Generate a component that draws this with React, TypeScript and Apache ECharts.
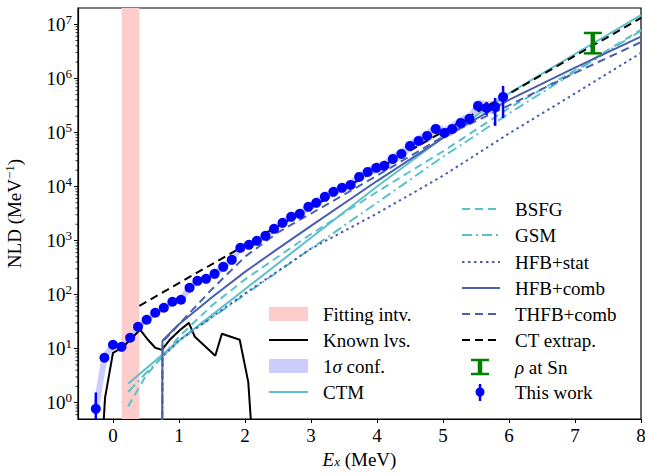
import React, { useEffect, useRef } from 'react';
import * as echarts from 'echarts';

// ---------- data ----------
const dataX = [-0.26, -0.13, 0.0, 0.13, 0.26, 0.38, 0.51, 0.64, 0.77, 0.9, 1.03, 1.16, 1.28, 1.41, 1.54, 1.67, 1.8, 1.93, 2.06, 2.18, 2.31, 2.44, 2.57, 2.7, 2.83, 2.96, 3.08, 3.21, 3.34, 3.47, 3.6, 3.73, 3.86, 3.99, 4.11, 4.24, 4.37, 4.5, 4.63, 4.76, 4.89, 5.02, 5.14, 5.27, 5.4, 5.53, 5.66, 5.79, 5.91];
const dataY = [0.77, 6.8, 11.8, 10.8, 15.9, 25.4, 34.2, 46.1, 57, 73.6, 80.2, 134, 180, 196, 242, 326, 440, 733, 832, 986, 1221, 1645, 2124, 2742, 3117, 4198, 4977, 6427, 7948, 9420, 10700, 15040, 18600, 22080, 24040, 32370, 40070, 56300, 69600, 86100, 116000, 98000, 116000, 150000, 178000, 309000, 284000, 296000, 453000];
// 1 sigma half width (log10 units)
const confErr = [0.04, 0.04, 0.04, 0.04, 0.04, 0.04, 0.04, 0.04, 0.05, 0.05, 0.05, 0.05, 0.05, 0.05, 0.05, 0.06, 0.06, 0.06, 0.06, 0.06, 0.07, 0.07, 0.07, 0.07, 0.07, 0.08, 0.08, 0.08, 0.08, 0.08, 0.09, 0.09, 0.09, 0.09, 0.1, 0.1, 0.1, 0.1, 0.11, 0.11, 0.11, 0.11, 0.12, 0.12, 0.12, 0.12, 0.12, 0.12, 0.12];
const errX = [-0.26, 5.66, 5.79, 5.91];
const errLow = [0.3, 210000, 132000, 185000];
const errHigh = [1.55, 366000, 434000, 724000];

const knownX = [-0.15, -0.12, 0.0, 0.14, 0.26, 0.41, 0.53, 0.64, 0.74, 0.86, 1.02, 1.15, 1.24, 1.55, 1.65, 1.92, 2.05, 2.1];
const knownY = [0.3, 1.24, 8.4, 10.4, 14.6, 22.4, 14.6, 10.4, 9.5, 14.6, 22.4, 30, 16.6, 7.4, 18.9, 14.6, 2.4, 0.3];

const ctX = [0.4, 8];
const ctY = [62, 1.31e7];

const ctmX = [0.23, 1, 2, 3, 4, 5, 6, 7, 8];
const ctmY = [2.24, 14.1, 126, 1122, 10000, 79400, 525000, 2.82e6, 1.48e7];

const bsfgX = [0.23, 0.5, 1, 1.5, 2, 3, 4, 5, 6, 7, 8];
const bsfgY = [0.85, 3.16, 16.6, 63.1, 191, 1318, 7940, 44700, 282000, 1.41e6, 7.94e6];

const gsmX = [0.23, 0.5, 1, 2, 3, 4, 5, 6, 7, 8];
const gsmY = [1.58, 3.55, 14.1, 100, 708, 5010, 35500, 224000, 1.32e6, 7.59e6];

const statX = [0.745, 0.75, 1, 2, 3, 4, 5, 6, 7, 8];
const statY = [0.1, 7.08, 14.1, 105, 708, 3160, 15800, 95500, 525000, 2.95e6];

const combX = [0.745, 0.75, 1, 1.5, 2, 2.5, 3, 4, 5, 6, 7, 8];
const combY = [0.1, 14.1, 28.2, 89.1, 263, 708, 1862, 12600, 79400, 398000, 1.58e6, 5.89e6];

const thfbX = [0.745, 0.75, 1, 1.5, 2, 2.5, 3, 3.5, 4, 5, 6, 7, 8];
const thfbY = [0.1, 13.2, 28.2, 126, 501, 1413, 3160, 7080, 15800, 83200, 316000, 1.26e6, 4.68e6];

const snX = [7.27];
const snY = [4.5e6];
const snLow = [2.9e6];
const snHigh = [6.9e6];

const fitRange = [0.13, 0.4];

const xTicks = [0, 1, 2, 3, 4, 5, 6, 7, 8];
const X_MIN = -0.53;
const X_MAX = 8;
const Y_MIN = 0.5;
const Y_MAX = 2e7;

// ---------- style ----------
const FONT = '"Liberation Serif", "Times New Roman", serif';
const CYAN = '#5bc0cb';
const BLUE = '#4a5fae';
const DOT = '#0000ff';
const PINK = '#ffcccc';
const BAND = '#ccccff';
const GREEN = '#008000';
const FS = 19;
const SFS = 13;
const LFS = 19;

const zip = (xs: number[], ys: number[]) => xs.map((x, i) => [x, ys[i]]);

const minorVals: number[][] = [];
for (let e = -1; e <= 7; e++) {
  for (let k = 2; k <= 9; k++) {
    const v = k * Math.pow(10, e);
    if (v > Y_MIN && v < Y_MAX) minorVals.push([X_MIN, v]);
  }
}

const lineSeries = (name: string, xs: number[], ys: number[], color: string, type: any, z = 4) => ({
  name,
  type: 'line',
  data: zip(xs, ys),
  showSymbol: false,
  symbol: 'none',
  clip: true,
  z,
  lineStyle: { color, width: 2, type },
});

function buildLegend() {
  const els: any[] = [];
  const txt = (x: number, y: number, rich: string) => ({
    type: 'text',
    x,
    y,
    style: {
      text: rich,
      fontFamily: FONT,
      fontSize: LFS,
      fill: '#000',
      verticalAlign: 'middle',
      rich: {
        i: { fontStyle: 'italic', fontFamily: FONT, fontSize: LFS },
      },
    },
    z: 100,
  });
  const seg = (x1: number, x2: number, y: number, color: string, dash?: number[]) => ({
    type: 'line',
    shape: { x1, y1: y, x2, y2: y },
    style: { stroke: color, lineWidth: 2.2, lineDash: dash },
    z: 100,
  });
  // left column
  const L1 = 269, L2 = 308, LT = 323;
  els.push({ type: 'rect', shape: { x: L1, y: 307, width: L2 - L1, height: 14 }, style: { fill: PINK }, z: 100 });
  els.push(txt(LT, 314, 'Fitting intv.'));
  els.push(seg(L1, L2, 340, '#000'));
  els.push(txt(LT, 340, 'Known lvs.'));
  els.push({ type: 'rect', shape: { x: L1, y: 359, width: L2 - L1, height: 14 }, style: { fill: BAND }, z: 100 });
  els.push(txt(LT, 366, '1{i|σ} conf.'));
  els.push(seg(L1, L2, 392, CYAN));
  els.push(txt(LT, 392, 'CTM'));
  // right column
  const R1 = 462, R2 = 500, RT = 515;
  els.push(seg(R1, R2, 209, CYAN, [8, 5]));
  els.push(txt(RT, 209, 'BSFG'));
  els.push(seg(R1, R2, 235, CYAN, [10, 4, 2, 4]));
  els.push(txt(RT, 235, 'GSM'));
  els.push(seg(R1, R2, 262, BLUE, [2.5, 3.5]));
  els.push(txt(RT, 262, 'HFB+stat'));
  els.push(seg(R1, R2, 288, BLUE));
  els.push(txt(RT, 288, 'HFB+comb'));
  els.push(seg(R1, R2, 314, BLUE, [8, 5]));
  els.push(txt(RT, 314, 'THFB+comb'));
  els.push(seg(R1, R2, 340, '#000', [8, 5]));
  els.push(txt(RT, 340, 'CT extrap.'));
  // rho at Sn
  els.push({ type: 'line', shape: { x1: 480, y1: 359, x2: 480, y2: 375 }, style: { stroke: GREEN, lineWidth: 4.5 }, z: 100 });
  els.push({ type: 'line', shape: { x1: 471, y1: 360, x2: 489, y2: 360 }, style: { stroke: GREEN, lineWidth: 2.5 }, z: 100 });
  els.push({ type: 'line', shape: { x1: 471, y1: 374, x2: 489, y2: 374 }, style: { stroke: GREEN, lineWidth: 2.5 }, z: 100 });
  els.push(txt(RT, 367, '{i|ρ} at Sn'));
  // this work
  els.push({ type: 'line', shape: { x1: 480, y1: 384, x2: 480, y2: 401 }, style: { stroke: DOT, lineWidth: 2.5 }, z: 100 });
  els.push({ type: 'circle', shape: { cx: 480, cy: 392, r: 4.5 }, style: { fill: DOT }, z: 100 });
  els.push(txt(RT, 392, 'This work'));
  return els;
}

export default function App() {
  const ref = useRef<HTMLDivElement>(null);
  useEffect(() => {
    document.body.style.margin = '0';
    const chart = echarts.init(ref.current!, null, { renderer: 'svg' });
    const option: any = {
      animation: false,
      backgroundColor: '#fff',
      grid: {
        left: 78, right: 4, top: 8, bottom: 57,
        show: true, borderColor: '#000', borderWidth: 1.2, backgroundColor: 'transparent',
        containLabel: false, outerBoundsMode: 'none',
      },
      xAxis: {
        type: 'value',
        min: X_MIN,
        max: X_MAX,
        axisLine: { onZero: false, lineStyle: { color: '#000', width: 1.2 } },
        axisTick: { customValues: xTicks, length: 4, lineStyle: { color: '#000', width: 1 } },
        axisLabel: { customValues: xTicks, color: '#000', fontFamily: FONT, fontSize: FS, margin: 7 },
        splitLine: { show: false },
        name: '{i|E}{s|x}{n| (MeV)}',
        nameLocation: 'middle',
        nameGap: 29,
        nameTextStyle: {
          color: '#000',
          fontFamily: FONT,
          fontSize: FS,
          rich: {
            i: { fontStyle: 'italic', fontFamily: FONT, fontSize: FS, padding: [0, 0, 4, 0] },
            n: { fontFamily: FONT, fontSize: FS, padding: [0, 0, 4, 0] },
            s: { fontStyle: 'italic', fontFamily: FONT, fontSize: SFS },
          },
        },
      },
      yAxis: {
        type: 'log',
        logBase: 10,
        min: Y_MIN,
        max: Y_MAX,
        axisLine: { onZero: false, lineStyle: { color: '#000', width: 1.2 } },
        axisTick: { length: 4, lineStyle: { color: '#000', width: 1 } },
        axisLabel: {
          color: '#000',
          fontFamily: FONT,
          fontSize: FS,
          margin: 6,
          showMinLabel: false,
          showMaxLabel: false,
          formatter: (v: number) => `{n|10}{s|${Math.round(Math.log10(v))}}`,
          rich: {
            n: { fontFamily: FONT, fontSize: FS },
            s: { fontFamily: FONT, fontSize: SFS, padding: [0, 0, 10, 0] },
          },
        },
        splitLine: { show: false },
        name: '{n|NLD (MeV}{s|−1}{n|)}',
        nameLocation: 'middle',
        nameGap: 52,
        nameTextStyle: {
          color: '#000',
          fontFamily: FONT,
          fontSize: FS,
          rich: {
            n: { fontFamily: FONT, fontSize: FS },
            s: { fontFamily: FONT, fontSize: SFS, padding: [0, 0, 10, 0] },
          },
        },
      },
      series: [
        {
          name: 'minor ticks',
          type: 'custom',
          data: minorVals,
          clip: false,
          silent: true,
          z: 10,
          renderItem: (params: any, api: any) => {
            const p = api.coord([api.value(0), api.value(1)]);
            return { type: 'line', shape: { x1: p[0] - 2.5, y1: p[1], x2: p[0], y2: p[1] }, style: { stroke: '#000', lineWidth: 0.8 } };
          },
        },
        {
          name: 'Fitting intv.',
          type: 'custom',
          data: [[fitRange[0], fitRange[1]]],
          clip: true,
          silent: true,
          z: 1,
          renderItem: (params: any, api: any) => {
            const a = api.coord([fitRange[0], Y_MAX]);
            const b = api.coord([fitRange[1], Y_MIN]);
            return { type: 'rect', shape: { x: a[0], y: a[1], width: b[0] - a[0], height: b[1] - a[1] }, style: { fill: PINK } };
          },
        },
        {
          name: '1σ conf.',
          type: 'custom',
          data: [[dataX[0], dataY[0]]],
          clip: true,
          silent: true,
          z: 2,
          renderItem: (params: any, api: any) => {
            const up = dataX.map((x, i) => api.coord([x, dataY[i] * Math.pow(10, confErr[i])]));
            const lo = dataX.map((x, i) => api.coord([x, dataY[i] * Math.pow(10, -confErr[i])])).reverse();
            return { type: 'polygon', shape: { points: up.concat(lo) }, style: { fill: BAND } };
          },
        },
        {
          name: 'conf line',
          type: 'line',
          data: zip(dataX, dataY),
          showSymbol: false,
          symbol: 'none',
          z: 2,
          lineStyle: { color: BAND, width: 6 },
        },
        lineSeries('Known lvs.', knownX, knownY, '#000', 'solid', 3),
        lineSeries('CTM', ctmX, ctmY, CYAN, 'solid'),
        lineSeries('BSFG', bsfgX, bsfgY, CYAN, [8, 5]),
        lineSeries('GSM', gsmX, gsmY, CYAN, [10, 4, 2, 4]),
        lineSeries('HFB+stat', statX, statY, BLUE, [2.5, 3.5]),
        lineSeries('HFB+comb', combX, combY, BLUE, 'solid'),
        lineSeries('THFB+comb', thfbX, thfbY, BLUE, [8, 5]),
        lineSeries('CT extrap.', ctX, ctY, '#000', [8, 5], 5),
        {
          name: 'This work',
          type: 'scatter',
          data: zip(dataX, dataY),
          symbol: 'circle',
          symbolSize: 10,
          itemStyle: { color: DOT, opacity: 1 },
          z: 6,
        },
        {
          name: 'error bars',
          type: 'custom',
          data: errX.map((x, i) => [x, errLow[i], errHigh[i]]),
          clip: true,
          z: 6,
          renderItem: (params: any, api: any) => {
            const a = api.coord([api.value(0), api.value(1)]);
            const b = api.coord([api.value(0), api.value(2)]);
            return { type: 'line', shape: { x1: a[0], y1: a[1], x2: b[0], y2: b[1] }, style: { stroke: DOT, lineWidth: 2.5 } };
          },
        },
        {
          name: 'rho at Sn',
          type: 'custom',
          data: snX.map((x, i) => [x, snLow[i], snHigh[i], snY[i]]),
          clip: true,
          z: 7,
          renderItem: (params: any, api: any) => {
            const a = api.coord([api.value(0), api.value(1)]);
            const b = api.coord([api.value(0), api.value(2)]);
            return {
              type: 'group',
              children: [
                { type: 'line', shape: { x1: a[0], y1: a[1], x2: b[0], y2: b[1] }, style: { stroke: GREEN, lineWidth: 4.5 } },
                { type: 'line', shape: { x1: a[0] - 9, y1: a[1], x2: a[0] + 9, y2: a[1] }, style: { stroke: GREEN, lineWidth: 2.5 } },
                { type: 'line', shape: { x1: b[0] - 9, y1: b[1], x2: b[0] + 9, y2: b[1] }, style: { stroke: GREEN, lineWidth: 2.5 } },
              ],
            };
          },
        },
      ],
      graphic: buildLegend(),
    };
    chart.setOption(option);
    return () => chart.dispose();
  }, []);
  return <div ref={ref} style={{ width: 645, height: 476 }} />;
}
